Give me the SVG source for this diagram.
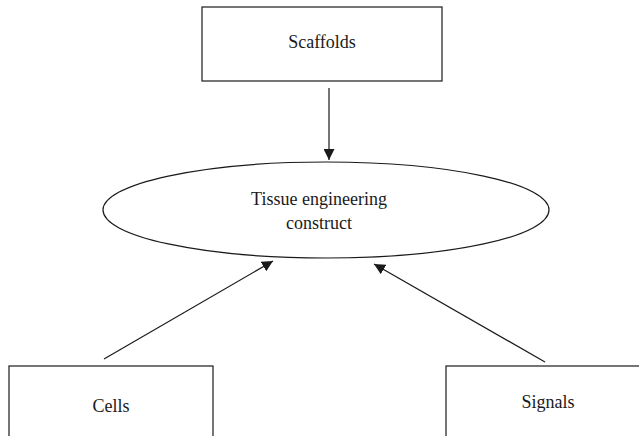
<svg xmlns="http://www.w3.org/2000/svg" width="639" height="436" viewBox="0 0 639 436">
  <defs>
    <marker id="arrow" viewBox="0 0 10 10" refX="10" refY="5" markerWidth="11" markerHeight="11" markerUnits="userSpaceOnUse" orient="auto">
      <path d="M0,0 L10,5 L0,10 Z" fill="#1a1a1a"/>
    </marker>
    <style>
      .box { fill: #fff; stroke: #1a1a1a; stroke-width: 1.2; }
      .label { font-family: "Liberation Serif", "DejaVu Serif", serif; font-size: 18px; fill: #1a1a1a; text-anchor: middle; }
      .edge { stroke: #1a1a1a; stroke-width: 1.2; fill: none; marker-end: url(#arrow); }
    </style>
  </defs>
  <rect width="639" height="436" fill="#fff"/>

  <g id="connectors">
    <line class="edge" x1="329" y1="88" x2="329" y2="160"/>
    <line class="edge" x1="104" y1="359" x2="273" y2="261"/>
    <line class="edge" x1="545" y1="362" x2="374" y2="264"/>
  </g>

  <g id="scaffolds">
    <rect class="box" x="202" y="7" width="240" height="74"/>
    <text class="label" x="322" y="48">Scaffolds</text>
  </g>

  <g id="construct">
    <ellipse class="box" cx="326" cy="210" rx="223" ry="48"/>
    <text class="label" x="319" y="205">Tissue engineering</text>
    <text class="label" x="319" y="229">construct</text>
  </g>

  <g id="cells">
    <rect class="box" x="9" y="366" width="204" height="80"/>
    <text class="label" x="111" y="412">Cells</text>
  </g>

  <g id="signals">
    <rect class="box" x="446" y="366" width="200" height="80"/>
    <text class="label" x="548" y="408">Signals</text>
  </g>
</svg>
